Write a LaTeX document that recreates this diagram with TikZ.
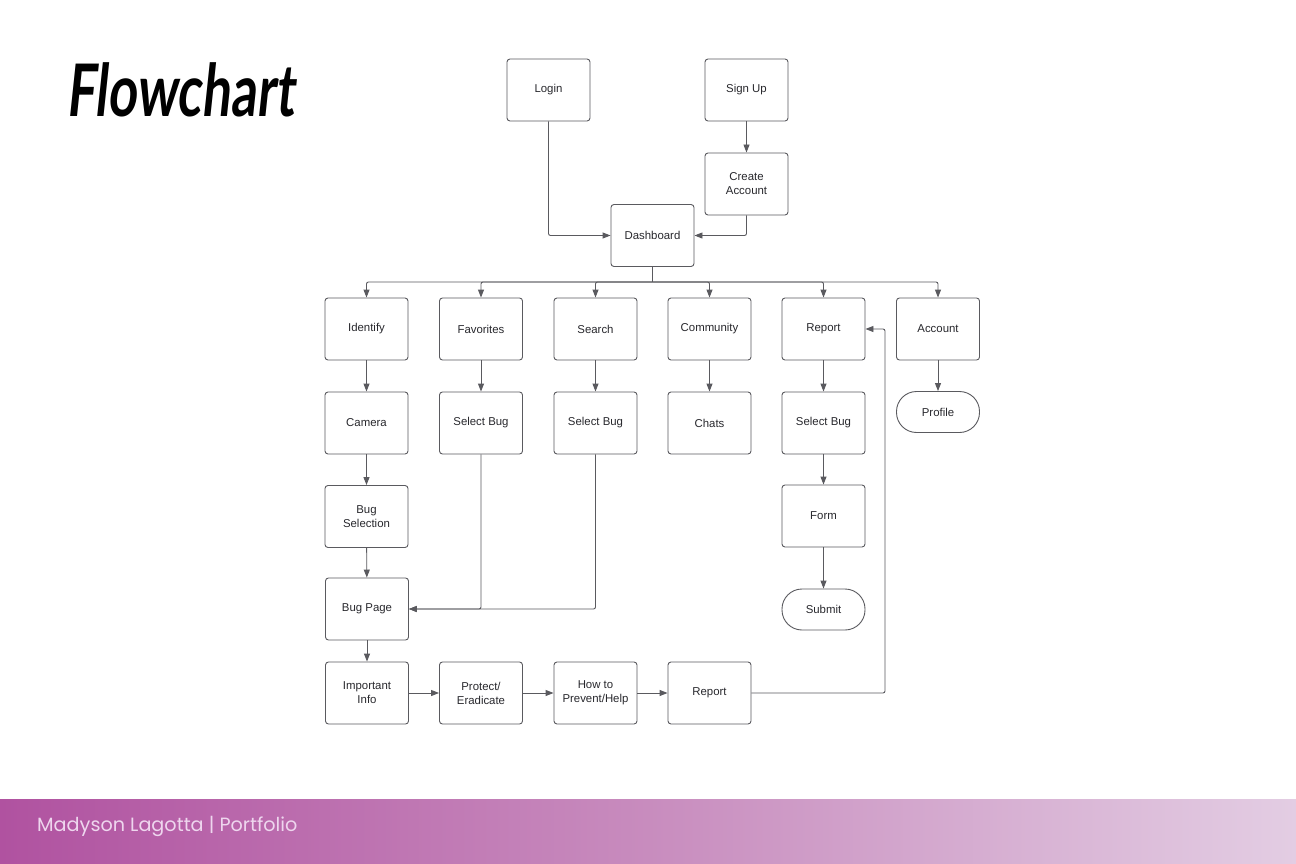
\documentclass[tikz,border=0pt]{standalone}
\usepackage{fontspec}
\setmainfont{Liberation Sans}
\newfontfamily\titlefont{Lato}[FakeSlant=0.15]
\newfontfamily\footfont{Poppins}
\usepackage{xcolor}
\definecolor{linegray}{RGB}{90,90,95}
\definecolor{tipgray}{RGB}{50,50,60}
\definecolor{textgray}{RGB}{40,40,45}
\definecolor{footleft}{RGB}{176,82,160}
\definecolor{footmid}{RGB}{200,140,190}
\definecolor{footright}{RGB}{227,205,227}
\definecolor{foottext}{RGB}{238,214,238}
\usetikzlibrary{arrows.meta,positioning,calc}
\tikzset{
  box/.style={draw=linegray, line width=0.9pt, rounded corners=3pt, minimum width=83pt, minimum height=62pt,
    align=center, text=textgray, font=\fontsize{11.4}{14}\selectfont},
  term/.style={box, rounded corners=20pt, minimum height=41pt},
  arr/.style={linegray, line width=0.9pt, rounded corners=2pt, -{Triangle[length=8pt,width=6pt]}},
  wire/.style={linegray, line width=0.9pt, rounded corners=2pt}
}
\begin{document}
\begin{tikzpicture}[x=1pt,y=-1pt]
  \useasboundingbox (0,0) rectangle (1296,864);
  \fill[white] (0,0) rectangle (1296,864);

  % Title
  \node[anchor=west, inner sep=0pt] (title) at (66,90) {\scalebox{0.88}[1.25]{\titlefont\bfseries\fontsize{58}{60}\selectfont Flowchart}};

  % Footer band
  \shade[left color=footleft, right color=footright, middle color=footmid] (0,799) rectangle (1296,864);
  \node[anchor=west, inner sep=0pt, text=foottext, font=\footfont\fontsize{19.2}{22}\selectfont] (foot) at (37,826) {Madyson Lagotta | Portfolio};

  % Entry
  \node[box] (login) at (548.5,90) {Login};
  \node[box] (signup) at (746.5,90) {Sign Up};
  \node[box] (create) at (746.5,184) {Create\\Account};
  \node[box] (dash) at (652.5,235.5) {Dashboard};

  % Main sections
  \node[box] (identify) at (366.5,329) {Identify};
  \node[box] (favs) at (481,329) {Favorites};
  \node[box] (search) at (595.5,329) {Search};
  \node[box] (community) at (709.5,329) {Community};
  \node[box] (report) at (823.5,329) {Report};
  \node[box] (account) at (938,329) {Account};

  % Second level
  \node[box] (camera) at (366.5,423) {Camera};
  \node[box] (favsel) at (481,423) {Select Bug};
  \node[box] (searchsel) at (595.5,423) {Select Bug};
  \node[box] (chats) at (709.5,423) {Chats};
  \node[box] (repsel) at (823.5,423) {Select Bug};
  \node[term] (profile) at (938,412) {Profile};

  % Identify branch
  \node[box] (bugsel) at (366.5,516.5) {Bug\\Selection};
  \node[box] (bugpage) at (367,609) {Bug Page};
  \node[box] (info) at (367,693) {Important\\Info};
  \node[box] (protect) at (481,693) {Protect/\\Eradicate};
  \node[box] (prevent) at (595.5,693) {How to\\Prevent/Help};
  \node[box] (report2) at (709.5,693) {Report};

  % Report branch
  \node[box] (form) at (823.5,516) {Form};
  \node[term] (submit) at (823.5,609.5) {Submit};

  % Connectors
  \draw[arr] (login.south) |- (dash.west);
  \draw[arr] (signup) -- (create);
  \draw[arr] (create.south) |- (dash.east);

  \coordinate (bus) at (652.5,282);
  \draw[wire] (dash.south) -- (bus);
  \foreach \n in {identify,favs,search,community,report,account}
    \draw[arr] (bus) -| (\n.north);

  \draw[arr] (identify) -- (camera);
  \draw[arr] (favs) -- (favsel);
  \draw[arr] (search) -- (searchsel);
  \draw[arr] (community) -- (chats);
  \draw[arr] (report) -- (repsel);
  \draw[arr] (account) -- (profile);

  \draw[arr] (camera) -- (bugsel);
  \draw[arr] (bugsel) -- (bugpage);
  \draw[arr] (favsel.south) |- (bugpage.east);
  \draw[arr] (searchsel.south) |- (bugpage.east);
  \draw[arr] (bugpage) -- (info);
  \draw[arr] (info) -- (protect);
  \draw[arr] (protect) -- (prevent);
  \draw[arr] (prevent) -- (report2);

  \draw[arr] (repsel) -- (form);
  \draw[arr] (form) -- (submit);

  \coordinate (back) at (885,329);
  \draw[arr] (report2.east) -- (report2.east -| back) |- (report.east);
\end{tikzpicture}
\end{document}
